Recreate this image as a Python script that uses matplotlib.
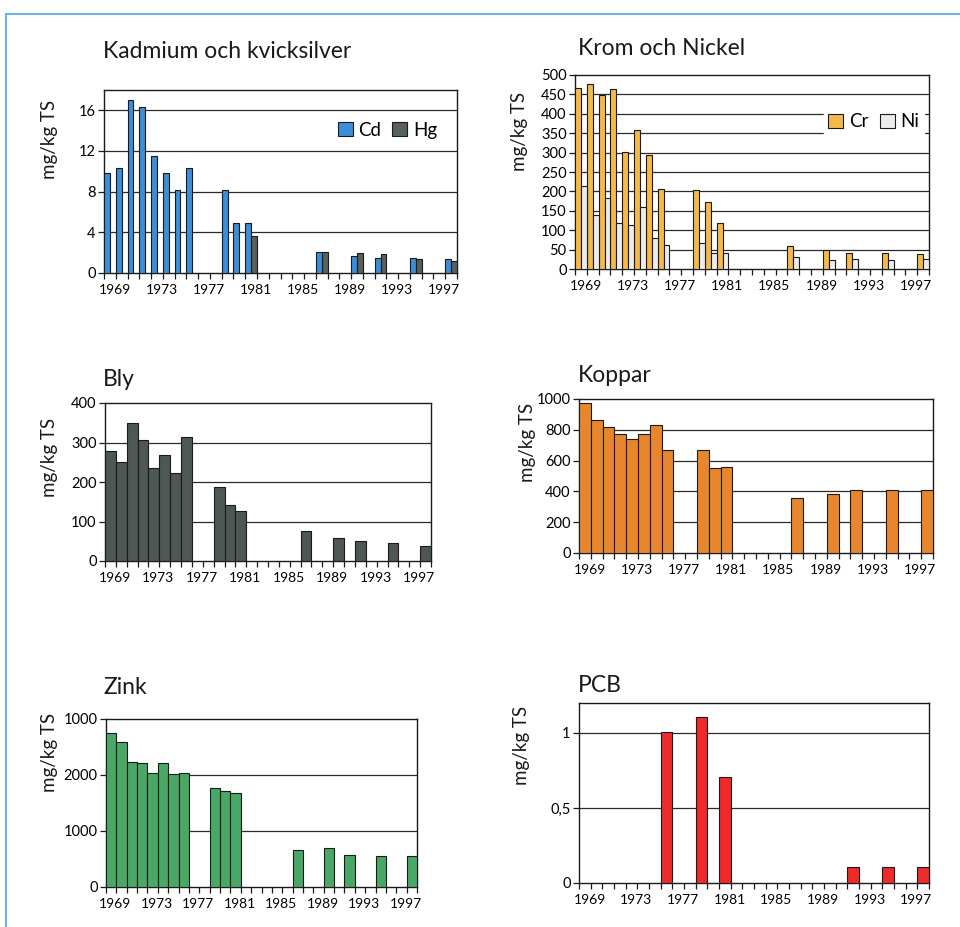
import numpy as np
import matplotlib
matplotlib.use("Agg")
import matplotlib.pyplot as plt
from matplotlib.lines import Line2D
from matplotlib.patches import Patch

plt.rcParams['font.family'] = ['Lato', 'DejaVu Sans']

# ---------------- data ----------------
years = [1969, 1970, 1971, 1972, 1973, 1974, 1975, 1976,
         1979, 1980, 1981, 1987, 1990, 1992, 1995, 1998]
cd = [9.8, 10.3, 17.0, 16.3, 11.5, 9.8, 8.2, 10.3, 8.2, 4.9, 4.9, 2.05, 1.65, 1.5, 1.5, 1.4]
hg = [np.nan] * 10 + [3.6, 2.05, 2.0, 1.9, 1.4, 1.2]
cr = [466, 478, 449, 464, 301, 359, 293, 205, 203, 172, 119, 58, 49, 40, 40, 38]
ni = [214, 138, 182, 119, 113, 160, 80, 62, 67, 41, 41, 31, 23, 25, 22, 27]
bly = [278, 251, 350, 307, 236, 268, 224, 314, 187, 141, 126, 75, 59, 51, 46, 39]
koppar = [972, 865, 821, 771, 738, 771, 828, 666, 670, 552, 557, 356, 384, 408, 410, 410]
zink = [2750, 2590, 2240, 2210, 2030, 2220, 2020, 2030, 1770, 1715, 1685, 665, 705, 580, 550, 562]
pcb_years = [1976, 1979, 1981, 1992, 1995, 1998]
pcb = [1.01, 1.11, 0.71, 0.107, 0.107, 0.107]

year_labels = ['1969', '1973', '1977', '1981', '1985', '1989', '1993', '1997']

titles = ['Kadmium och kvicksilver', 'Krom och Nickel', 'Bly', 'Koppar', 'Zink', 'PCB']
ylabel = 'mg/kg TS'

# ---------------- figure ----------------
W, H = 960, 927
fig = plt.figure(figsize=(W / 100, H / 100), dpi=100)
fig.patch.set_facecolor('white')

def px_axes(l, r, t, b):
    return fig.add_axes([l / W, 1 - b / H, (r - l) / W, (b - t) / H])

# page border (blue lines top and left)
fig.add_artist(Line2D([6 / W, 1.0], [1 - 14 / H, 1 - 14 / H], color='#5aaee0', lw=1.3))
fig.add_artist(Line2D([6 / W, 6 / W], [1 - 14 / H, 0.0], color='#5aaee0', lw=1.3))

EDGE = '#1a1a1a'
GRID = '#2a2a2a'

def style(ax, ymax, yticks, yticklabels):
    ax.set_xlim(1969, 1999)
    ax.set_ylim(0, ymax)
    ax.set_yticks(yticks)
    ax.set_yticklabels(yticklabels)
    for y in yticks[1:]:
        if y < ymax:
            ax.axhline(y, color=GRID, lw=0.9, zorder=1)
    ax.set_xticks([int(y) + 0.9 for y in year_labels])
    ax.set_xticklabels(year_labels)
    ax.set_xticks(np.arange(1969, 2000), minor=True)
    ax.tick_params(axis='x', which='major', length=0, pad=8, labelsize=10)
    ax.tick_params(axis='x', which='minor', length=4, width=0.9, direction='out', color=EDGE)
    ax.tick_params(axis='y', length=4, width=0.9, direction='out', labelsize=10.5, pad=2, color=EDGE)
    for s in ax.spines.values():
        s.set_color(EDGE)
        s.set_linewidth(1.0)

def bars(ax, xs, vals, color, offset=0.0, width=1.0):
    xs2 = [x + offset for x, v in zip(xs, vals) if not np.isnan(v)]
    vs2 = [v for v in vals if not np.isnan(v)]
    ax.bar(xs2, vs2, width=width, align='edge', color=color,
           edgecolor=EDGE, linewidth=0.8, zorder=3)

# Panel 1: Cd / Hg
ax1 = px_axes(104, 457, 90, 273)
bars(ax1, years, cd, '#3b8fd9', 0.0, 0.5)
bars(ax1, years, hg, '#56605c', 0.5, 0.5)
style(ax1, 18, [0, 4, 8, 12, 16], ['0', '4', '8', '12', '16'])
ax1.legend(handles=[Patch(facecolor='#3b8fd9', edgecolor=EDGE, lw=0.8, label='Cd'),
                    Patch(facecolor='#56605c', edgecolor=EDGE, lw=0.8, label='Hg')],
           loc='center right', bbox_to_anchor=(0.965, 0.78), ncol=2, frameon=False,
           fontsize=13.5, handlelength=0.8, handleheight=0.8, handletextpad=0.3,
           columnspacing=0.6, borderaxespad=0)

# Panel 2: Cr / Ni
ax2 = px_axes(575, 929, 75, 269)
bars(ax2, years, cr, '#f5b94a', 0.0, 0.5)
bars(ax2, years, ni, '#ececec', 0.5, 0.5)
style(ax2, 500, list(range(0, 501, 50)), [str(v) for v in range(0, 501, 50)])
leg = ax2.legend(handles=[Patch(facecolor='#f5b94a', edgecolor=EDGE, lw=0.8, label='Cr'),
                          Patch(facecolor='#ececec', edgecolor=EDGE, lw=0.8, label='Ni')],
                 loc='center right', bbox_to_anchor=(0.985, 0.758), ncol=2, frameon=True,
                 fontsize=13.5, handlelength=0.8, handleheight=0.8, handletextpad=0.3,
                 columnspacing=0.6, borderaxespad=0, borderpad=0.25, fancybox=False)
leg.get_frame().set_edgecolor('white')
leg.get_frame().set_facecolor('white')
leg.get_frame().set_alpha(1)
leg.set_zorder(5)

# Panel 3: Bly
ax3 = px_axes(105, 431, 403, 561)
bars(ax3, years, bly, '#4d5753')
style(ax3, 400, [0, 100, 200, 300, 400], ['0', '100', '200', '300', '400'])

# Panel 4: Koppar
ax4 = px_axes(579, 933, 399, 553)
bars(ax4, years, koppar, '#e8862e')
style(ax4, 1000, [0, 200, 400, 600, 800, 1000], ['0', '200', '400', '600', '800', '1000'])

# Panel 5: Zink
ax5 = px_axes(106, 417, 719, 887)
bars(ax5, years, zink, '#4aa866')
style(ax5, 3000, [0, 1000, 2000, 3000], ['0', '1000', '2000', '1000'])

# Panel 6: PCB
ax6 = px_axes(579, 929, 703, 883)
bars(ax6, pcb_years, pcb, '#ee2a2a')
style(ax6, 1.2, [0, 0.5, 1], ['0', '0,5', '1'])

# titles
title_pos = [(103, 58), (578, 55), (103, 386), (578, 382), (103, 694), (578, 692)]
for t, (x, y) in zip(titles, title_pos):
    fig.text(x / W, 1 - y / H, t, fontsize=16.5, ha='left', va='baseline', color='#1a1a1a')

# y labels
ylab_pos = [(50, 139), (520, 131), (50, 457), (527, 442), (50, 752), (522, 745)]
for (x, y) in ylab_pos:
    fig.text(x / W, 1 - y / H, ylabel, fontsize=13.5, rotation=90, ha='center', va='center',
             color='#1a1a1a')

fig.savefig('out.png', dpi=100, facecolor='white')
